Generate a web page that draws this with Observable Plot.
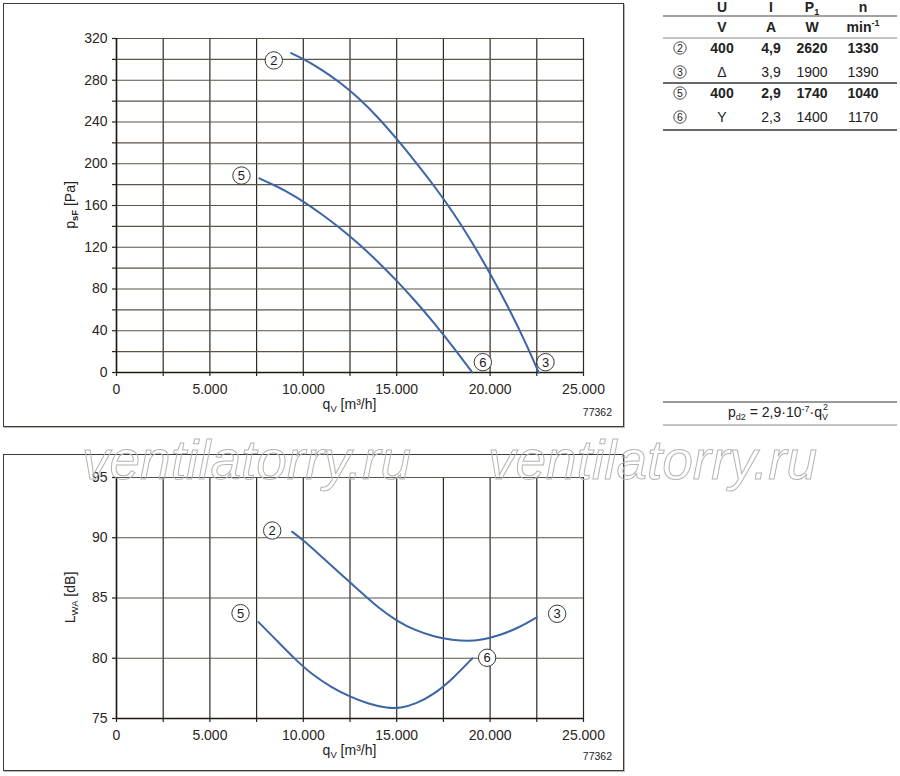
<!DOCTYPE html>
<html><head><meta charset="utf-8">
<script src="https://cdn.jsdelivr.net/npm/d3@7"></script>
<script src="https://cdn.jsdelivr.net/npm/@observablehq/plot@0.6"></script>
<style>
body{margin:0;background:#fff;font-family:"Liberation Sans",Arial,sans-serif;}
#root{position:relative;width:900px;height:776px;overflow:hidden;background:#fff;}
.frame{position:absolute;border:1.4px solid #3f3a35;box-sizing:border-box;box-shadow:1px 1px 0 #b8b4b0;}
.abs{position:absolute;}
</style></head><body><div id="root"></div>
<script>
// ---------- DATA ----------
// Pressure curves (top chart)
const pressQ23 = [9350,10000,11000,12000,13000,14000,15000,16000,17000,18000,19000,20000,21000,22000,22600];
const pressP23 = [306,300.5,290,277.5,262.5,244.5,224,202,179,154,126,95,62,25,0];
const pressQ56 = [7650,8500,9000,10000,11000,12000,13000,14000,15000,16000,17000,18000,19050];
const pressP56 = [186,179,174.5,164,151.5,138,123,106,88,68.5,47.5,25,0];
// Sound power curves (bottom chart)
const soundQ23 = [9400,10000,11000,12000,13000,14000,15000,16000,17000,18000,18800,19500,20500,21500,22500];
const soundL23 = [90.5,89.8,88.4,87.0,85.6,84.2,83.1,82.3,81.8,81.5,81.42,81.5,81.9,82.5,83.4];
const soundQ56 = [7600,8500,9500,10500,11500,12500,13500,14500,15200,16000,17000,18000,19050];
const soundL56 = [83.0,81.6,80.0,78.6,77.6,76.8,76.2,75.85,75.85,76.2,77.0,78.3,80.0];
// Curve labels
const curveIds = ["2","5","6","3"];
const pressLabelQ = [8420,6690,19610,22965];
const pressLabelP = [299,188.7,9.9,9.9];
const soundLabelQ = [8335,6640,19840,23590];
const soundLabelL = [90.6,83.74,80.04,83.69];
// Axis ticks
const xTicks = d3.range(0,25001,2500);
const pressTicks = d3.range(0,321,20);
const soundTicks = [75,80,85,90,95];
// Table
const tableHead = ["U","I","P","n"];
const tableUnits = ["V","A","W","min"];
const tableIds = ["2","3","5","6"];
const tableU = ["400","Δ","400","Y"];
const tableI = ["4,9","3,9","2,9","2,3"];
const tableP = ["2620","1900","1740","1400"];
const tableN = ["1330","1390","1040","1170"];
const tableBold = [true,false,true,false];
const drawingNo = "77362";

// ---------- HELPERS ----------
const FONT = "Liberation Sans, Arial, Helvetica, sans-serif";
const BLUE = "#3b65a6";
const fmtX = d => d % 5000 === 0 ? d3.format(",")(d).replace(/,/g, ".") : "";
const root = document.getElementById("root");

function place(el, left, top) {
  el.classList.add("abs");
  el.style.left = left + "px"; el.style.top = top + "px";
  root.appendChild(el);
}
function frame(left, top, w, h) {
  const d = document.createElement("div");
  d.className = "frame";
  Object.assign(d.style, {left: left+"px", top: top+"px", width: w+"px", height: h+"px"});
  root.appendChild(d);
}

function chart({yDomain, yTicks, yEvery, height, marginTop, marginBottom, series, labels, yTitle, ySub, yUnit}) {
  const lines = series.map(s => Plot.line(s, {x: "q", y: "v", stroke: BLUE, strokeWidth: 2, curve: "basis"}));
  const svg = Plot.plot({
    width: 619, height, marginLeft: 112, marginRight: 40, marginTop, marginBottom,
    style: {fontFamily: FONT, fontSize: "14px", color: "#2a2522", background: "transparent", overflow: "visible"},
    x: {domain: [0, 25000]},
    y: {domain: yDomain},
    marks: [
      Plot.gridX(xTicks, {stroke: "#33291f", strokeOpacity: 1, strokeWidth: 1.2}),
      Plot.gridY(yTicks, {stroke: "#5b5349", strokeOpacity: 1, strokeWidth: 1.2}),
      Plot.axisX({ticks: xTicks, tickSize: 4, tickPadding: 8, tickFormat: fmtX, label: null, stroke: "#2a2218", strokeWidth: 1.2}),
      Plot.axisY({ticks: yTicks, tickSize: 4, tickPadding: 5, tickFormat: d => d % yEvery === 0 ? String(d) : "", label: null, stroke: "#2a2218", strokeWidth: 1.2}),
      Plot.ruleX([0], {stroke: "#1e1810", strokeWidth: 1.5}),
      Plot.ruleY([yDomain[0]], {stroke: "#1e1810", strokeWidth: 1.5}),
      ...lines,
      Plot.dot(labels, {x: "q", y: "v", r: 8.7, fill: "white", stroke: "#222", strokeWidth: 0.9}),
      Plot.text(labels, {x: "q", y: "v", text: "t", fontSize: 13, fill: "#1a1a1a", dy: 0.5})
    ]
  });
  const s = d3.select(svg);
  const xr = svg.scale("x").range, yr = svg.scale("y").range;
  const cx = (xr[0] + xr[1]) / 2, cy = (yr[0] + yr[1]) / 2;
  // x title
  const xt = s.append("text").attr("x", cx).attr("y", height - marginBottom + 37)
    .attr("text-anchor", "middle").attr("font-size", 14).attr("fill", "#222");
  xt.append("tspan").text("q");
  xt.append("tspan").attr("font-size", 9.5).attr("dy", 3).text("V");
  xt.append("tspan").attr("dy", -3).text(" [m³/h]");
  // y title
  const yt = s.append("text").attr("transform", `translate(71,${cy}) rotate(-90)`)
    .attr("text-anchor", "middle").attr("font-size", 14).attr("fill", "#222");
  yt.append("tspan").text(yTitle);
  yt.append("tspan").attr("font-size", 9.5).attr("dy", 3).attr("font-weight", ySub === "sF" ? "bold" : "normal").text(ySub);
  yt.append("tspan").attr("dy", -3).text(" " + yUnit);
  // drawing number
  s.append("text").attr("x", 608).attr("y", height - 10).attr("text-anchor", "end")
    .attr("font-size", 10.5).attr("fill", "#222").text(drawingNo);
  return svg;
}

// ---------- TOP CHART ----------
const topSvg = chart({
  yDomain: [0, 320], yTicks: pressTicks, yEvery: 40, height: 422, marginTop: 34, marginBottom: 54,
  series: [pressQ23.map((q,i)=>({q, v: pressP23[i]})), pressQ56.map((q,i)=>({q, v: pressP56[i]}))],
  labels: curveIds.map((t,i)=>({t, q: pressLabelQ[i], v: pressLabelP[i]})),
  yTitle: "p", ySub: "sF", yUnit: "[Pa]"
});
frame(3, 3, 621, 424);
place(topSvg, 4, 4);

// ---------- BOTTOM CHART ----------
const botSvg = chart({
  yDomain: [75, 95], yTicks: soundTicks, yEvery: 5, height: 316, marginTop: 23, marginBottom: 52,
  series: [soundQ23.map((q,i)=>({q, v: soundL23[i]})), soundQ56.map((q,i)=>({q, v: soundL56[i]}))],
  labels: curveIds.map((t,i)=>({t, q: soundLabelQ[i], v: soundLabelL[i]})),
  yTitle: "L", ySub: "WA", yUnit: "[dB]"
});
frame(3, 454, 621, 317);
place(botSvg, 4, 454);

// ---------- TABLE + FORMULA + WATERMARK overlay ----------
const ov = d3.create("svg").attr("width", 900).attr("height", 776)
  .style("font-family", FONT).style("pointer-events", "none");
const colX = [722, 771, 812, 863];
const rowY = [53, 77, 98, 122];
const hl = (y, c, w) => ov.append("line").attr("x1", 663).attr("x2", 897).attr("y1", y).attr("y2", y).attr("stroke", c).attr("stroke-width", w);
hl(16, "#4a4540", 1.2); hl(38, "#8a8580", 1); hl(83, "#3a3530", 1.4); hl(130, "#3a3530", 1.4);
// headers
tableHead.forEach((h, i) => {
  const t = ov.append("text").attr("x", colX[i]).attr("y", 12).attr("text-anchor", "middle")
    .attr("font-size", 14).attr("font-weight", "bold").attr("fill", "#222");
  t.append("tspan").text(h);
  if (h === "P") t.append("tspan").attr("font-size", 9).attr("dy", 3).text("1");
});
tableUnits.forEach((u, i) => {
  const t = ov.append("text").attr("x", colX[i]).attr("y", 32).attr("text-anchor", "middle")
    .attr("font-size", 14).attr("font-weight", "bold").attr("fill", "#222");
  t.append("tspan").text(u);
  if (u === "min") t.append("tspan").attr("font-size", 9).attr("dy", -6).text("-1");
});
const cols = [tableU, tableI, tableP, tableN];
tableIds.forEach((id, r) => {
  ov.append("circle").attr("cx", 680).attr("cy", rowY[r] - 5).attr("r", 6.2).attr("fill", "white").attr("stroke", "#222").attr("stroke-width", 0.8);
  ov.append("text").attr("x", 680).attr("y", rowY[r] - 1.3).attr("text-anchor", "middle").attr("font-size", 10.5).attr("fill", "#222").text(id);
  cols.forEach((c, k) => {
    ov.append("text").attr("x", colX[k]).attr("y", rowY[r]).attr("text-anchor", "middle")
      .attr("font-size", 14).attr("font-weight", tableBold[r] ? "bold" : "normal").attr("fill", "#222").text(c[r]);
  });
});
// formula
hl(402, "#3a3530", 1.2); hl(425, "#8a8580", 1);
const f = ov.append("text").attr("x", 778).attr("y", 417).attr("text-anchor", "middle").attr("font-size", 14).attr("fill", "#222");
f.append("tspan").text("p");
f.append("tspan").attr("font-size", 9).attr("dy", 3).text("d2");
f.append("tspan").attr("dy", -3).text(" = 2,9·10");
f.append("tspan").attr("font-size", 9).attr("dy", -5).text("-7");
f.append("tspan").attr("dy", 5).text("·q");
f.append("tspan").attr("font-size", 9).attr("dy", 3).text("V");
f.append("tspan").attr("font-size", 9).attr("dx", -5).attr("dy", -10).text("2");
// watermark
[82, 488].forEach(x => {
  ov.append("text").attr("x", x).attr("y", 479).attr("font-size", 55).attr("font-style", "italic")
    .attr("fill", "none").attr("stroke", "#b4b4b4").attr("stroke-width", 1).text("ventilatorry.ru");
});
const ovNode = ov.node();
place(ovNode, 0, 0);
</script>
</body></html>
